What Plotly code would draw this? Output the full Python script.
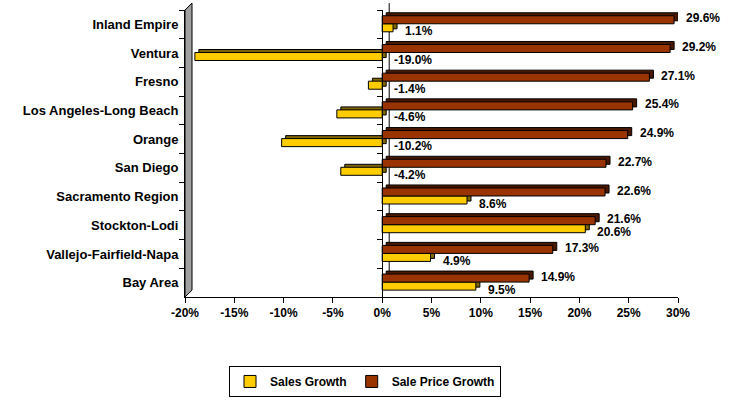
import plotly.graph_objects as go

# Regional growth figures (percent)
regions = [
    "Inland Empire", "Ventura", "Fresno", "Los Angeles-Long Beach", "Orange",
    "San Diego", "Sacramento Region", "Stockton-Lodi", "Vallejo-Fairfield-Napa", "Bay Area",
]
sale_price_growth = [29.6, 29.2, 27.1, 25.4, 24.9, 22.7, 22.6, 21.6, 17.3, 14.9]
sales_growth = [1.1, -19.0, -1.4, -4.6, -10.2, -4.2, 8.6, 20.6, 4.9, 9.5]

x_ticks = [-20, -15, -10, -5, 0, 5, 10, 15, 20, 25, 30]
x_tick_labels = [f"{v}%" for v in x_ticks]

# styling
YELLOW, YELLOW_SIDE = "#FFCC00", "#7F6600"
RED, RED_SIDE = "#993300", "#4A1800"
FONT = "Liberation Sans, Arial, sans-serif"

X_MIN, X_MAX = x_ticks[0], x_ticks[-1]
L, R, T, B = 185, 52, 10, 107
W, H = 730, 407
px_per_unit = (W - L - R) / (X_MAX - X_MIN)
px_per_paper_y = H - T - B

BAR_DEPTH_X = 4 / px_per_unit          # extrusion of each bar, in % units
BAR_DEPTH_Y = 3 / (px_per_paper_y / len(regions))  # in category units
WALL_X = 7 / px_per_unit
WALL_Y = 7 / px_per_paper_y

BAR_W = 0.28
RED_OFF = -0.30
YEL_OFF = RED_OFF + BAR_W

fig = go.Figure()

# extruded "depth" faces, drawn behind the front faces
fig.add_trace(go.Bar(
    y=regions, x=sales_growth, base=BAR_DEPTH_X, orientation="h",
    offset=YEL_OFF - BAR_DEPTH_Y, width=BAR_W,
    marker=dict(color=YELLOW_SIDE, line=dict(color="black", width=1)),
    showlegend=False, hoverinfo="skip",
))
fig.add_trace(go.Bar(
    y=regions, x=sale_price_growth, base=BAR_DEPTH_X, orientation="h",
    offset=RED_OFF - BAR_DEPTH_Y, width=BAR_W,
    marker=dict(color=RED_SIDE, line=dict(color="black", width=1)),
    showlegend=False, hoverinfo="skip",
))

# front faces
fig.add_trace(go.Bar(
    y=regions, x=sales_growth, orientation="h", name="Sales Growth",
    offset=YEL_OFF, width=BAR_W, yaxis="y2",
    marker=dict(color=YELLOW, line=dict(color="black", width=1)),
))
fig.add_trace(go.Bar(
    y=regions, x=sale_price_growth, orientation="h", name="Sale Price Growth",
    offset=RED_OFF, width=BAR_W, yaxis="y2",
    marker=dict(color=RED, line=dict(color="black", width=1)),
))

# value labels
label_font = dict(family=FONT, size=12, color="black", weight="bold")
annotations = []
for reg, v in zip(regions, sale_price_growth):
    annotations.append(dict(
        x=max(v, 0), y=reg, xref="x", yref="y", text=f"{v:.1f}%",
        showarrow=False, xanchor="left", yanchor="middle", xshift=10, yshift=6,
        font=label_font,
    ))
for reg, v in zip(regions, sales_growth):
    annotations.append(dict(
        x=max(v, 0), y=reg, xref="x", yref="y", text=f"{v:.1f}%",
        showarrow=False, xanchor="left", yanchor="middle", xshift=10, yshift=-7,
        font=label_font,
    ))

shapes = [
    # back zero line
    dict(type="line", xref="x", yref="paper", x0=WALL_X, x1=WALL_X,
         y0=WALL_Y, y1=1 + WALL_Y, line=dict(color="black", width=1), layer="below"),
    # grey side wall
    dict(type="path", xref="x", yref="paper",
         path=(f"M {X_MIN},0 L {X_MIN},1 L {X_MIN + WALL_X},{1 + WALL_Y} "
               f"L {X_MIN + WALL_X},{WALL_Y} Z"),
         fillcolor="#A0A0A0", line=dict(color="black", width=1), layer="above"),
]

cat_range = [len(regions) - 0.5, -0.5]

fig.update_layout(
    width=W, height=H,
    margin=dict(l=L, r=R, t=T, b=B, pad=0),
    plot_bgcolor="white", paper_bgcolor="white",
    barmode="overlay",
    font=dict(family=FONT, size=12, color="black"),
    xaxis=dict(
        range=[X_MIN, X_MAX], tickvals=x_ticks, ticktext=x_tick_labels,
        ticks="outside", ticklen=5, tickcolor="black",
        showline=True, linecolor="black", linewidth=1,
        showgrid=False, zeroline=False,
        tickfont=dict(family=FONT, size=12, color="black", weight="bold"),
    ),
    yaxis=dict(
        type="category", categoryarray=regions, range=cat_range,
        tickson="boundaries", ticks="outside", ticklen=5, tickcolor="black",
        showline=True, linecolor="black", showgrid=False, zeroline=False,
        ticklabelstandoff=3,
        tickfont=dict(family=FONT, size=13, color="black", weight="bold"),
    ),
    yaxis2=dict(
        type="category", categoryarray=regions, range=cat_range,
        overlaying="y", anchor="free",
        position=(0 - X_MIN) / (X_MAX - X_MIN), side="left",
        tickson="boundaries", ticks="outside", ticklen=5, tickcolor="black",
        showline=True, linecolor="black", showgrid=False, zeroline=False,
        showticklabels=False,
    ),
    legend=dict(
        orientation="h", x=(W / 2 - L) / (W - L - R), xanchor="center",
        y=-(401 - (H - B)) / px_per_paper_y, yanchor="bottom",
        bordercolor="black", borderwidth=1, bgcolor="white",
        font=dict(family=FONT, size=12, color="black", weight="bold"),
        traceorder="normal", itemwidth=30,
    ),
    annotations=annotations,
    shapes=shapes,
    showlegend=True,
)

fig.write_html("out.html")
